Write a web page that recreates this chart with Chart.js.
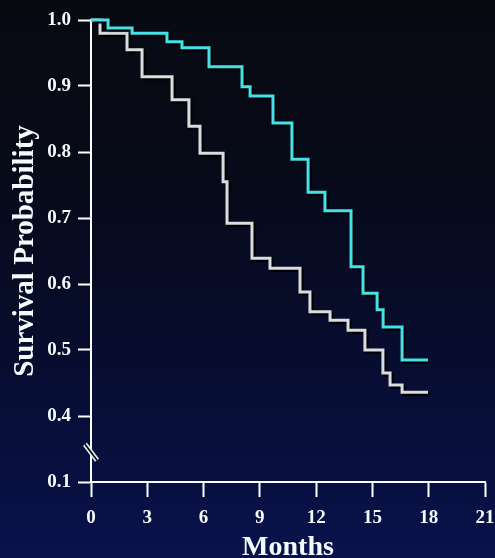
<!DOCTYPE html>
<html>
<head>
<meta charset="utf-8">
<script src="https://cdn.jsdelivr.net/npm/chart.js@4.4.1/dist/chart.umd.min.js"></script>
<style>
  html, body { margin: 0; padding: 0; }
  body {
    width: 495px; height: 558px; overflow: hidden;
    background: linear-gradient(to bottom, #080a12 0%, #070a18 30%, #070d30 65%, #09124c 100%);
  }
  #wrap { position: relative; width: 495px; height: 558px; }
</style>
</head>
<body>
<div id="wrap"><canvas id="survival-chart"></canvas></div>
<script>
/************/
/*** DATA ***/
/************/

// Month of each drop and survival probability right after it (Kaplan-Meier steps)
const cyanMonths   = [0, 0.91, 2.19, 4.05, 4.85, 6.29, 8.05, 8.48, 9.70, 10.71, 11.57, 12.47, 13.86, 14.50, 15.25, 15.57, 16.58, 17.96];
const cyanSurvival = [1.0, 0.988, 0.980, 0.967, 0.958, 0.929, 0.899, 0.885, 0.844, 0.789, 0.739, 0.711, 0.626, 0.586, 0.561, 0.535, 0.485, 0.485];

const grayMonths   = [0, 0.48, 1.92, 2.72, 4.32, 5.22, 5.81, 7.04, 7.25, 8.58, 9.54, 11.14, 11.67, 12.74, 13.70, 14.60, 15.56, 15.94, 16.58, 17.96];
const graySurvival = [1.0, 0.980, 0.955, 0.914, 0.879, 0.839, 0.798, 0.755, 0.692, 0.639, 0.624, 0.588, 0.558, 0.545, 0.530, 0.500, 0.465, 0.447, 0.436, 0.436];

// Axis ticks (the y axis is broken: the lowest tick stands for 0.1)
const xTickValues = [0, 3, 6, 9, 12, 15, 18, 21];
const xTickLabels = ['0', '3', '6', '9', '12', '15', '18', '21'];
const yTickValues = [0.3, 0.4, 0.5, 0.6, 0.7, 0.8, 0.9, 1.0];
const yTickLabels = ['0.1', '0.4', '0.5', '0.6', '0.7', '0.8', '0.9', '1.0'];
const yBreakAt = 0.345;

/***************/
/*** PLUGINS ***/
/***************/

// black drop shadow under the curves
const lineShadow = {
    id: 'lineShadow',
    beforeDatasetDraw(chart) {
        const ctx = chart.ctx;
        ctx.save();
        ctx.shadowColor = '#000';
        ctx.shadowOffsetX = 2;
        ctx.shadowOffsetY = 2;
        ctx.shadowBlur = 1;
    },
    afterDatasetDraw(chart) { chart.ctx.restore(); }
};

// the "//" break mark on the y axis
const axisBreak = {
    id: 'axisBreak',
    afterDraw(chart) {
        const ctx = chart.ctx;
        const x0 = chart.chartArea.left;
        const y0 = chart.scales.y.getPixelForValue(yBreakAt);
        ctx.save();
        ctx.lineCap = 'butt';
        ctx.strokeStyle = '#dfeeee';
        ctx.lineWidth = 5;
        ctx.beginPath(); ctx.moveTo(x0 - 6, y0 - 8); ctx.lineTo(x0 + 6, y0 + 8); ctx.stroke();
        ctx.strokeStyle = '#000';
        ctx.lineWidth = 1.5;
        ctx.beginPath(); ctx.moveTo(x0 - 6, y0 - 8); ctx.lineTo(x0 + 6, y0 + 8); ctx.stroke();
        ctx.restore();
    }
};

/****************/
/*** Plotting ***/
/****************/

function toPoints(xs, ys) {
    return xs.map((x, i) => ({x: x, y: ys[i]}));
}

const serif = 'Liberation Serif, Times New Roman, serif';
const white = '#f4fbfc';

const ctx = document.getElementById('survival-chart');
const chart = new Chart(ctx, {
    type: 'line',
    data: {
        datasets: [
            {label: 'cyan', data: toPoints(cyanMonths, cyanSurvival), borderColor: '#45e1e6',
             borderWidth: 3, stepped: true, pointRadius: 0, fill: false, clip: false},
            {label: 'gray', data: toPoints(grayMonths, graySurvival), borderColor: '#dadcde',
             borderWidth: 3, stepped: true, pointRadius: 0, fill: false, clip: false}
        ]
    },
    options: {
        responsive: true,
        maintainAspectRatio: false,
        animation: false,
        layout: {padding: {top: 20, right: 10, left: 0, bottom: 0}},
        plugins: {legend: {display: false}, tooltip: {enabled: false}},
        scales: {
            x: {
                type: 'linear', min: 0, max: 21,
                afterBuildTicks: (scale) => { scale.ticks = xTickValues.map(v => ({value: v})); },
                afterFit: (scale) => { scale.height = 76; scale.paddingLeft = 0; scale.paddingRight = 0; },
                ticks: {
                    color: white, padding: 10, maxRotation: 0,
                    font: {family: serif, size: 19, weight: 'bold'},
                    callback: (value, index) => xTickLabels[index]
                },
                grid: {drawOnChartArea: false, drawTicks: true, tickLength: 15, tickWidth: 2, tickColor: '#fff'},
                border: {display: true, color: '#fff', width: 2},
                title: {display: true, text: 'Months', color: white,
                        font: {family: serif, size: 28, weight: 'bold', lineHeight: 1},
                        padding: {top: 0, bottom: -4}}
            },
            y: {
                type: 'linear', min: 0.3, max: 1.0,
                afterBuildTicks: (scale) => { scale.ticks = yTickValues.map(v => ({value: v})); },
                afterFit: (scale) => { scale.width = 91; },
                ticks: {
                    color: white, padding: 7,
                    font: {family: serif, size: 19, weight: 'bold'},
                    callback: (value, index) => yTickLabels[index]
                },
                grid: {drawOnChartArea: false, drawTicks: true, tickLength: 13, tickWidth: 2, tickColor: '#fff'},
                border: {display: true, color: '#fff', width: 2},
                title: {display: true, text: 'Survival Probability', color: white,
                        font: {family: serif, size: 29, weight: 'bold', lineHeight: 1},
                        padding: {top: 11, bottom: 0}}
            }
        }
    },
    plugins: [lineShadow, axisBreak]
});
</script>
</body>
</html>
